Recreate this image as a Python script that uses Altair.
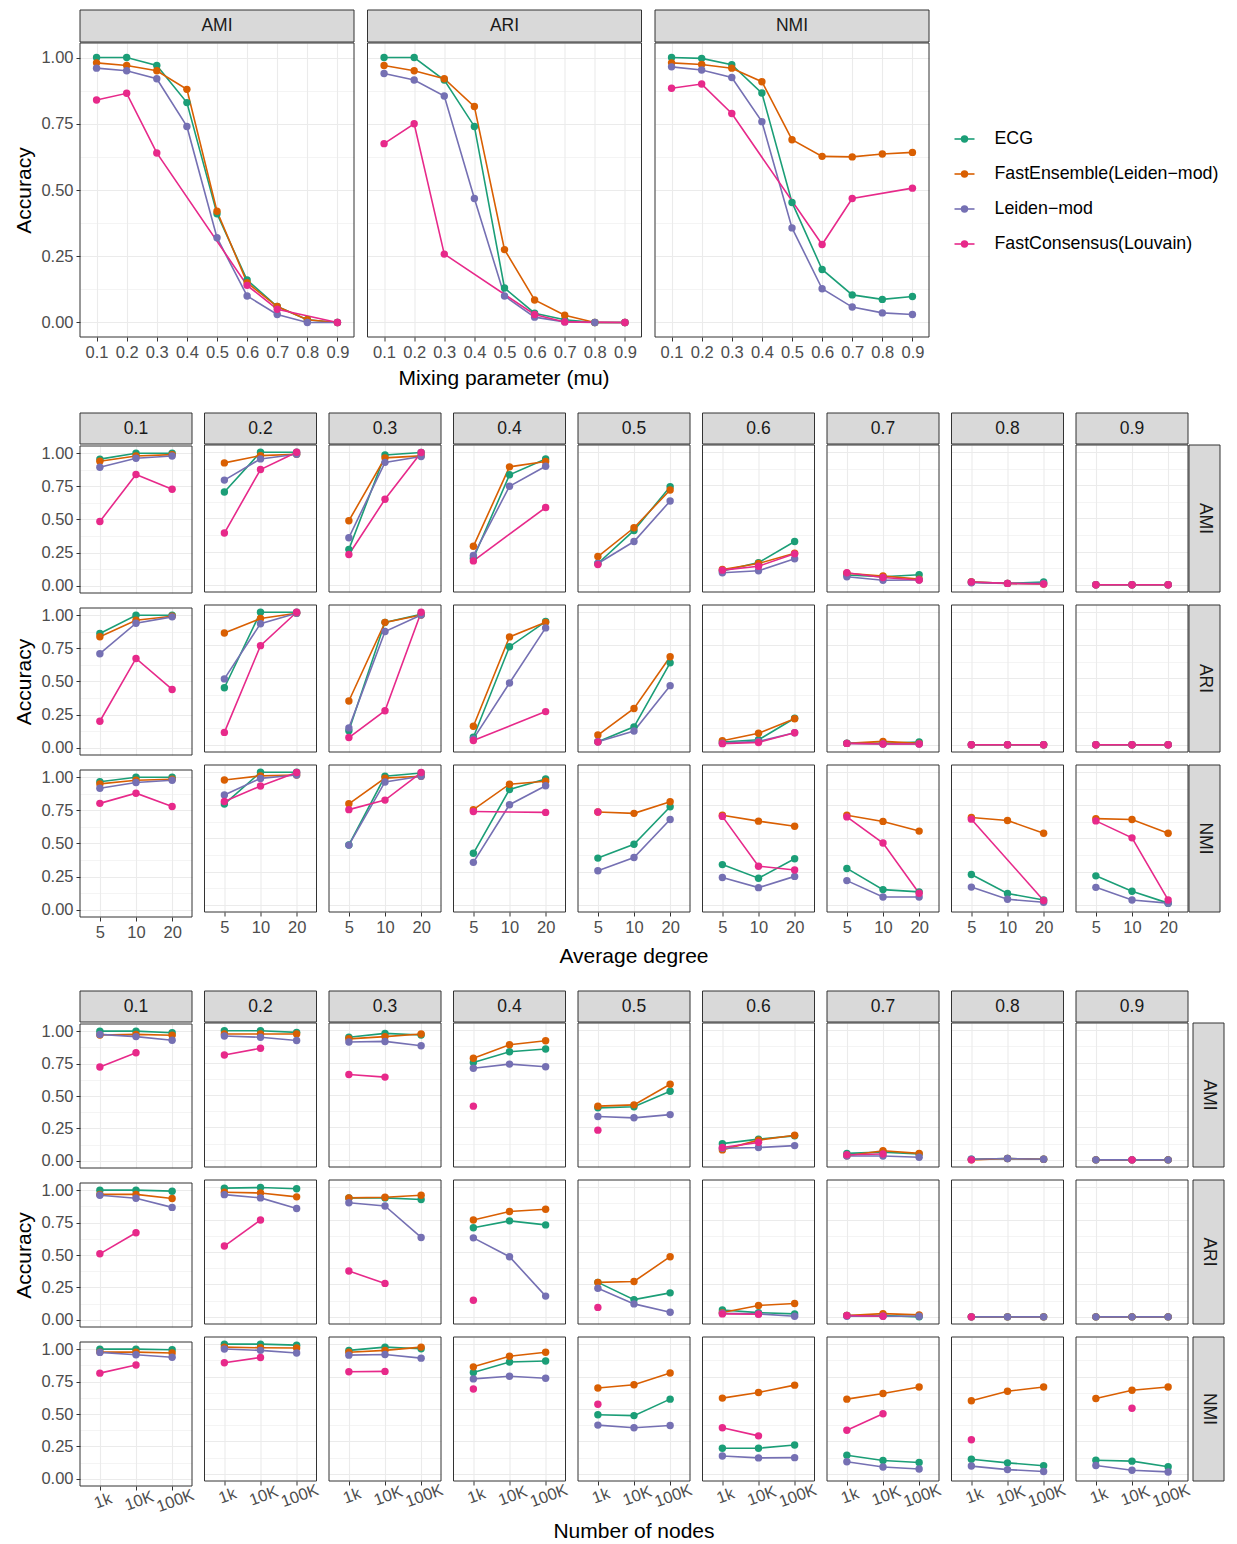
import altair as alt
import pandas as pd

FONT = "Liberation Sans"
METHODS = ["ECG", "FastEnsemble(Leiden−mod)", "Leiden−mod", "FastConsensus(Louvain)"]
COLORS = ["#1B9E77", "#D95F02", "#7570B3", "#E7298A"]
METRICS = ["AMI", "ARI", "NMI"]
MU = ["0.1", "0.2", "0.3", "0.4", "0.5", "0.6", "0.7", "0.8", "0.9"]
DEGREES = ["5", "10", "20"]
NODES = ["1k", "10K", "100K"]
N = None

# ---- Top: accuracy vs mixing parameter ----
top_AMI = {
    "ECG": [1.00, 1.00, 0.97, 0.83, 0.41, 0.16, 0.06, 0.01, 0.00],
    "FE":  [0.98, 0.97, 0.95, 0.88, 0.42, 0.15, 0.06, 0.01, 0.00],
    "LM":  [0.96, 0.95, 0.92, 0.74, 0.32, 0.10, 0.03, 0.00, 0.00],
    "FC":  [0.84, 0.865, 0.64, N, N, 0.14, 0.05, N, 0.00],
}
top_ARI = {
    "ECG": [1.00, 1.00, 0.915, 0.74, 0.13, 0.035, 0.01, 0.0, 0.0],
    "FE":  [0.97, 0.95, 0.92, 0.815, 0.275, 0.085, 0.027, 0.0, 0.0],
    "LM":  [0.94, 0.915, 0.855, 0.468, 0.10, 0.02, 0.002, 0.0, 0.0],
    "FC":  [0.675, 0.75, 0.258, N, N, 0.03, 0.002, N, 0.0],
}
top_NMI = {
    "ECG": [1.00, 0.997, 0.973, 0.866, 0.453, 0.20, 0.104, 0.087, 0.098],
    "FE":  [0.98, 0.974, 0.96, 0.909, 0.69, 0.627, 0.625, 0.636, 0.642],
    "LM":  [0.965, 0.953, 0.925, 0.758, 0.357, 0.127, 0.058, 0.036, 0.03],
    "FC":  [0.884, 0.90, 0.789, N, N, 0.294, 0.468, N, 0.507],
}

# ---- Middle: accuracy vs average degree (per mu) ----
deg_AMI = {
    "ECG": [[0.956, 1.0, 1.0], [0.70, 1.0, 1.0], [0.267, 0.98, 0.998], [0.20, 0.83, 0.95], [0.16, 0.41, 0.74],
            [0.103, 0.167, 0.326], [0.073, 0.06, 0.075], [0.02, 0.01, 0.02], [0.0, 0.0, 0.0]],
    "FE":  [[0.94, 0.98, 0.99], [0.92, 0.975, 0.985], [0.483, 0.958, 0.973], [0.29, 0.89, 0.93], [0.213, 0.43, 0.715],
            [0.115, 0.16, 0.238], [0.086, 0.066, 0.042], [0.02, 0.01, 0.005], [0.0, 0.0, 0.0]],
    "LM":  [[0.895, 0.963, 0.98], [0.79, 0.95, 0.985], [0.355, 0.924, 0.968], [0.22, 0.743, 0.895], [0.16, 0.326, 0.632],
            [0.09, 0.105, 0.196], [0.06, 0.034, 0.036], [0.015, 0.01, 0.01], [0.0, 0.0, 0.0]],
    "FC":  [[0.485, 0.84, 0.728], [0.39, 0.87, 1.0], [0.228, 0.645, 0.998], [0.18, N, 0.583], [0.152, N, N],
            [0.11, 0.14, 0.233], [0.09, 0.054, 0.036], [0.02, 0.01, 0.005], [0.0, 0.0, 0.0]],
}
deg_ARI = {
    "ECG": [[0.863, 1.0, 1.0], [0.43, 1.0, 1.0], [0.105, 0.924, 0.985], [0.056, 0.74, 0.93], [0.022, 0.135, 0.618],
            [0.02, 0.037, 0.2], [0.012, 0.01, 0.02], [0.0, 0.0, 0.0], [0.0, 0.0, 0.0]],
    "FE":  [[0.838, 0.963, 0.993], [0.843, 0.953, 0.993], [0.33, 0.924, 0.98], [0.14, 0.814, 0.924], [0.073, 0.274, 0.664],
            [0.03, 0.086, 0.196], [0.01, 0.025, 0.01], [0.0, 0.0, 0.0], [0.0, 0.0, 0.0]],
    "LM":  [[0.71, 0.94, 0.988], [0.497, 0.914, 0.993], [0.127, 0.855, 0.98], [0.044, 0.466, 0.882], [0.022, 0.103, 0.446],
            [0.012, 0.025, 0.09], [0.01, 0.005, 0.005], [0.0, 0.0, 0.0], [0.0, 0.0, 0.0]],
    "FC":  [[0.2, 0.674, 0.44], [0.093, 0.748, 1.0], [0.054, 0.257, 1.0], [0.032, N, 0.25], [0.02, N, N],
            [0.008, 0.017, 0.09], [0.01, 0.005, 0.005], [0.0, 0.0, 0.0], [0.0, 0.0, 0.0]],
}
deg_NMI = {
    "ECG": [[0.966, 1.0, 1.0], [0.76, 1.0, 1.0], [0.451, 0.97, 0.995], [0.388, 0.87, 0.95], [0.352, 0.456, 0.74],
            [0.303, 0.2, 0.347], [0.274, 0.114, 0.097], [0.228, 0.085, 0.036], [0.218, 0.102, 0.012]],
    "FE":  [[0.95, 0.978, 0.985], [0.942, 0.973, 0.98], [0.762, 0.956, 0.97], [0.718, 0.91, 0.932], [0.70, 0.69, 0.777],
            [0.675, 0.631, 0.592], [0.675, 0.629, 0.556], [0.658, 0.636, 0.54], [0.65, 0.643, 0.54]],
    "LM":  [[0.917, 0.961, 0.978], [0.828, 0.954, 0.98], [0.45, 0.927, 0.97], [0.32, 0.755, 0.898], [0.257, 0.357, 0.643],
            [0.206, 0.129, 0.214], [0.182, 0.058, 0.058], [0.133, 0.041, 0.019], [0.131, 0.036, 0.012]],
    "FC":  [[0.803, 0.88, 0.78], [0.78, 0.896, 0.998], [0.718, 0.79, 0.998], [0.704, N, 0.697], [0.70, N, N],
            [0.667, 0.291, 0.262], [0.663, 0.466, 0.087], [0.646, N, 0.032], [0.633, 0.505, 0.036]],
}

# ---- Bottom: accuracy vs number of nodes (per mu) ----
nod_AMI = {
    "ECG": [[1.0, 1.0, 0.988], [0.995, 0.995, 0.983], [0.945, 0.975, 0.963], [0.75, 0.833, 0.855], [0.401, 0.409, 0.529],
            [0.125, 0.16, 0.185], [0.05, 0.06, 0.045], [0.005, 0.01, 0.005], [0.0, 0.0, 0.0]],
    "FE":  [[0.97, 0.975, 0.968], [0.97, 0.97, 0.97], [0.933, 0.95, 0.97], [0.783, 0.888, 0.918], [0.414, 0.424, 0.583],
            [0.077, 0.152, 0.19], [0.032, 0.07, 0.05], [0.0, 0.01, 0.005], [0.0, 0.0, 0.0]],
    "LM":  [[0.975, 0.958, 0.93], [0.955, 0.945, 0.92], [0.908, 0.913, 0.88], [0.706, 0.738, 0.718], [0.334, 0.324, 0.349],
            [0.09, 0.095, 0.11], [0.03, 0.03, 0.02], [0.005, 0.01, 0.005], [0.0, 0.0, 0.0]],
    "FC":  [[0.723, 0.833, N], [0.808, 0.86, N], [0.658, 0.638, N], [0.414, N, N], [0.229, N, N],
            [0.095, 0.135, N], [0.04, 0.045, N], [0.0, N, N], [N, 0.0, N]],
}
nod_ARI = {
    "ECG": [[1.0, 1.0, 0.992], [0.992, 0.997, 0.987], [0.917, 0.917, 0.905], [0.687, 0.74, 0.709], [0.266, 0.133, 0.185],
            [0.053, 0.033, 0.023], [0.01, 0.01, 0.0], [0.0, 0.0, 0.0], [0.0, 0.0, 0.0]],
    "FE":  [[0.967, 0.967, 0.935], [0.96, 0.955, 0.925], [0.917, 0.922, 0.937], [0.747, 0.812, 0.83], [0.266, 0.273, 0.464],
            [0.033, 0.088, 0.103], [0.01, 0.025, 0.015], [0.0, 0.0, 0.0], [0.0, 0.0, 0.0]],
    "LM":  [[0.96, 0.937, 0.867], [0.942, 0.917, 0.835], [0.88, 0.855, 0.612], [0.609, 0.464, 0.16], [0.22, 0.1, 0.035],
            [0.028, 0.023, 0.005], [0.005, 0.005, 0.005], [0.0, 0.0, 0.0], [0.0, 0.0, 0.0]],
    "FC":  [[0.509, 0.672, N], [0.546, 0.747, N], [0.353, 0.258, N], [0.128, N, N], [0.073, N, N],
            [0.023, 0.02, N], [0.01, 0.005, N], [0.0, N, N], [N, N, N]],
}
nod_NMI = {
    "ECG": [[1.0, 1.0, 0.995], [1.0, 1.0, 0.992], [0.952, 0.977, 0.965], [0.782, 0.862, 0.87], [0.456, 0.449, 0.576],
            [0.198, 0.198, 0.223], [0.143, 0.103, 0.088], [0.113, 0.085, 0.063], [0.105, 0.098, 0.055]],
    "FE":  [[0.977, 0.977, 0.97], [0.977, 0.972, 0.97], [0.937, 0.952, 0.977], [0.825, 0.907, 0.937], [0.662, 0.687, 0.777],
            [0.584, 0.627, 0.684], [0.576, 0.619, 0.669], [0.564, 0.637, 0.669], [0.581, 0.644, 0.669]],
    "LM":  [[0.975, 0.957, 0.937], [0.962, 0.952, 0.932], [0.915, 0.92, 0.892], [0.732, 0.752, 0.737], [0.376, 0.356, 0.373],
            [0.138, 0.123, 0.125], [0.093, 0.053, 0.038], [0.06, 0.033, 0.018], [0.065, 0.028, 0.015]],
    "FC":  [[0.815, 0.878, N], [0.857, 0.897, N], [0.787, 0.79, N], [0.654, N, N], [0.536, N, N],
            [0.356, 0.293, N], [0.336, 0.464, N], [0.263, N, N], [N, 0.506, N]],
}

KEYS = ["ECG", "FE", "LM", "FC"]

# ---------------- styling ----------------
GRID = "#EBEBEB"
BORDER = "#333333"
LABEL_COLOR = "#4D4D4D"
LSIZE = 16.5
SSIZE = 17.5
TSIZE = 21
MINOR = "datum.value * 4 % 1 != 0"
YVALS = [i * 0.125 for i in range(9)]


def top_frame(metric_dict):
    rows = []
    for k, name in zip(KEYS, METHODS):
        for i, v in enumerate(metric_dict[k]):
            if v is not None:
                rows.append({"method": name, "x": MU[i], "idx": i, "value": v})
    return pd.DataFrame(rows)


def grid_frame(metric_dict, mu_idx, xlabels):
    rows = []
    for k, name in zip(KEYS, METHODS):
        for i, v in enumerate(metric_dict[k][mu_idx]):
            if v is not None:
                rows.append({"method": name, "x": xlabels[i], "idx": i, "value": v})
    return pd.DataFrame(rows)


def panel(df, xdom, w, h, left, bottom, show_ytitle, label_angle=0, ytitle_pad=6):
    if left:
        yaxis = alt.Axis(values=YVALS, grid=True, gridColor=GRID,
                         gridWidth={"condition": {"test": MINOR, "value": 0.55}, "value": 1.1},
                         domain=False, ticks=True, tickColor=BORDER, tickSize=4,
                         tickOpacity={"condition": {"test": MINOR, "value": 0}, "value": 1},
                         labelExpr=MINOR + " ? '' : format(datum.value, '.2f')",
                         labelFontSize=LSIZE, labelColor=LABEL_COLOR, labelPadding=3,
                         title="Accuracy", titleFontSize=TSIZE, titleColor="#000000",
                         titleFontWeight="normal", titlePadding=ytitle_pad,
                         titleOpacity=1 if show_ytitle else 0)
    else:
        yaxis = alt.Axis(values=YVALS, grid=True, gridColor=GRID,
                         gridWidth={"condition": {"test": MINOR, "value": 0.55}, "value": 1.1},
                         domain=False, ticks=False, labels=False, title=None)
    if bottom:
        xkw = dict(grid=True, gridColor=GRID, gridWidth=1.1, domain=False, ticks=True,
                   tickColor=BORDER, tickSize=4, labelFontSize=LSIZE, labelColor=LABEL_COLOR,
                   labelPadding=3, title=None)
        if label_angle:
            xkw.update(labelAngle=label_angle, labelAlign="center", labelBaseline="top")
        else:
            xkw.update(labelAngle=0)
        xaxis = alt.Axis(**xkw)
    else:
        xaxis = alt.Axis(grid=True, gridColor=GRID, gridWidth=1.1, domain=False,
                         ticks=False, labels=False, title=None)

    base = alt.Chart(df).encode(
        x=alt.X("x:O", scale=alt.Scale(type="point", domain=xdom, padding=0.55), axis=xaxis),
        y=alt.Y("value:Q", scale=alt.Scale(domain=[-0.055, 1.055], nice=False, zero=False), axis=yaxis),
        color=alt.Color("method:N", scale=alt.Scale(domain=METHODS, range=COLORS), legend=None),
        order=alt.Order("idx:Q"),
    )
    lines = base.mark_line(strokeWidth=1.6)
    pts = base.mark_point(filled=True, size=55, opacity=1)
    border = alt.Chart(pd.DataFrame({"b": [0]})).mark_rect(
        fill="transparent", stroke=BORDER, strokeWidth=1
    ).encode(x=alt.value(0), x2=alt.value(w), y=alt.value(0), y2=alt.value(h))
    return alt.layer(lines, pts, border).properties(width=w, height=h)


def strip(label, w, h, vertical=False):
    d = pd.DataFrame({"label": [label]})
    bg = alt.Chart(d).mark_rect(fill="#D9D9D9", stroke=BORDER, strokeWidth=1).encode(
        x=alt.value(0), x2=alt.value(w), y=alt.value(0), y2=alt.value(h))
    tx = alt.Chart(d).mark_text(font=FONT, fontSize=SSIZE, color="#1A1A1A",
                                angle=90 if vertical else 0).encode(
        x=alt.value(w / 2), y=alt.value(h / 2), text="label:N")
    return alt.layer(bg, tx).properties(width=w, height=h)


def spacer(w, h):
    d = pd.DataFrame({"label": [""]})
    return alt.Chart(d).mark_rect(fill="transparent").encode(
        x=alt.value(0), x2=alt.value(w), y=alt.value(0), y2=alt.value(h)
    ).properties(width=w, height=h)


def xtitle_chart(text, w):
    d = pd.DataFrame({"t": [text]})
    return alt.Chart(d).mark_text(font=FONT, fontSize=TSIZE, color="#000000", baseline="top").encode(
        x=alt.value(w / 2), y=alt.value(0), text="t:N"
    ).properties(width=w, height=20)


# ---------------- top section ----------------
TW, TH = 274, 294
TSP = 11.5
top_dicts = [top_AMI, top_ARI, top_NMI]
top_cols = []
for j, m in enumerate(METRICS):
    p = panel(top_frame(top_dicts[j]), MU, TW, TH, left=(j == 0), bottom=True,
              show_ytitle=(j == 0))
    top_cols.append(alt.vconcat(strip(m, TW, 32), p, spacing=-1))

leg_df = pd.DataFrame({"method": METHODS})
leg_y = alt.Y("method:N", scale=alt.Scale(type="point", domain=METHODS, range=[129, 234], padding=0),
              axis=None)
leg_c = alt.Color("method:N", scale=alt.Scale(domain=METHODS, range=COLORS), legend=None)
leg_rule = alt.Chart(leg_df).mark_rule(strokeWidth=1.6).encode(
    x=alt.value(12), x2=alt.value(32), y=leg_y, color=leg_c)
leg_pt = alt.Chart(leg_df).mark_point(filled=True, size=55, opacity=1).encode(
    x=alt.value(22), y=leg_y, color=leg_c)
leg_tx = alt.Chart(leg_df).mark_text(font=FONT, fontSize=17.8, align="left", color="#000000").encode(
    x=alt.value(52), y=leg_y, text="method:N")
legend = alt.layer(leg_rule, leg_pt, leg_tx).properties(width=262, height=320)

top = alt.vconcat(
    alt.hconcat(*top_cols, legend, spacing=TSP),
    xtitle_chart("Mixing parameter (mu)", 3 * TW + 2 * 13),
    spacing=6,
)

# ---------------- grid sections ----------------
GW = 112
GSP = 12.5


def grid_section(dicts, xdom, ph, xtitle, col_space, strip_space, label_angle=0, tspace=4):
    cols = []
    for j in range(9):
        rows = []
        for i, m in enumerate(METRICS):
            df = grid_frame(dicts[i], j, xdom)
            rows.append(panel(df, xdom, GW, ph, left=(j == 0), bottom=(i == 2),
                              show_ytitle=(i == 1), label_angle=label_angle))
        cols.append(alt.vconcat(strip(MU[j], GW, 31), alt.vconcat(*rows, spacing=11), spacing=-1))
    right = alt.vconcat(spacer(31, 31),
                        alt.vconcat(*[strip(m, 31, ph, vertical=True) for m in METRICS], spacing=11),
                        spacing=-1)
    # spacings compensate for strokes / rotated labels that extend past each panel
    grid = alt.hconcat(alt.hconcat(*cols, spacing=col_space), right, spacing=strip_space)
    return alt.vconcat(grid, xtitle_chart(xtitle, 9 * GW + 8 * GSP), spacing=tspace)


middle = grid_section([deg_AMI, deg_ARI, deg_NMI], DEGREES, 147, "Average degree",
                      col_space=10.5, strip_space=-1, tspace=4)
bottom = grid_section([nod_AMI, nod_ARI, nod_NMI], NODES, 144, "Number of nodes",
                      col_space=6.5, strip_space=-9, label_angle=340, tspace=4)

chart = alt.vconcat(top, middle, bottom, spacing=22).properties(
    padding={"left": 5, "top": 1, "right": 2, "bottom": 0}
).configure(font=FONT).configure_view(stroke="transparent").configure_axis(
    labelFont=FONT, titleFont=FONT
)

chart.save("out.html", embed_options={"renderer": "svg", "actions": False})
